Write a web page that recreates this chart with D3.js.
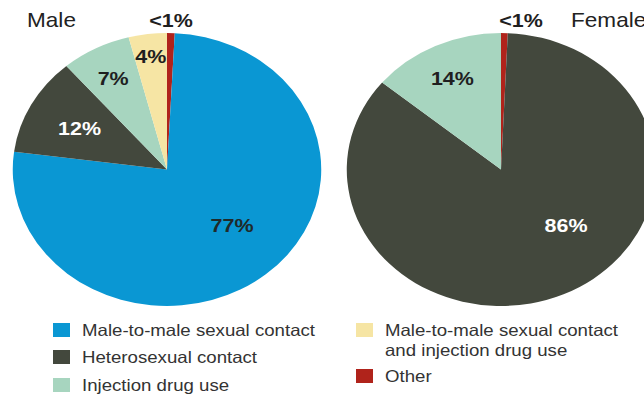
<!DOCTYPE html>
<html><head><meta charset="utf-8">
<script src="https://cdn.jsdelivr.net/npm/d3@7"></script>
<style>body{margin:0;background:#fff}svg{display:block}text{font-family:"Liberation Sans",Arial,sans-serif}</style>
</head><body>
<svg id="c" width="644" height="397"></svg>
<script>
// ---- data ----
const categories = ["Other","Male-to-male sexual contact","Heterosexual contact","Injection drug use","Male-to-male sexual contact and injection drug use"];
const maleValues = [0.8, 76.2, 11.6, 7.3, 4.0];
const maleLabels = ["<1%", "77%", "12%", "7%", "4%"];
const femaleCategories = ["Other","Heterosexual contact","Injection drug use"];
const femaleValues = [0.7, 85.3, 14.0];
const femaleLabels = ["<1%", "86%", "14%"];
const colors = {
  "Male-to-male sexual contact":"#0a97d3",
  "Heterosexual contact":"#43483d",
  "Injection drug use":"#a7d5bf",
  "Male-to-male sexual contact and injection drug use":"#f6e5a4",
  "Other":"#b0231b"
};
const legendCol1 = ["Male-to-male sexual contact","Heterosexual contact","Injection drug use"];
const legendCol2 = ["Male-to-male sexual contact and injection drug use","Other"];

// ---- layout ----
const sx = 1.13; // horizontal stretch of the original image
const svg = d3.select("#c");
const g = svg.append("g").attr("transform", `scale(${sx},1)`);
const R = 136.5, CY = 169.5;
const X = v => v / sx;

const pie = d3.pie().sort(null).value(d => d.v);
const arc = d3.arc().innerRadius(0).outerRadius(R);

function drawPie(cx, cats, vals, labels, labelPlace) {
  const data = cats.map((c,i)=>({c, v: vals[i], l: labels[i]}));
  const gp = g.append("g").attr("transform", `translate(${X(cx)},${CY})`);
  const arcs = pie(data);
  gp.selectAll("path").data(arcs).join("path")
    .attr("d", arc).attr("fill", d => colors[d.data.c]);
  arcs.forEach((a, i) => {
    const p = labelPlace[i];
    if (!p) return;
    const ang = p.angle !== undefined ? p.angle * Math.PI/180 : (a.startAngle + a.endAngle)/2;
    const x = Math.sin(ang) * p.r, y = -Math.cos(ang) * p.r;
    gp.append("text").attr("x", x).attr("y", y).attr("dy", "0.36em")
      .attr("text-anchor","middle").attr("font-size", 19).attr("font-weight","bold")
      .attr("fill", p.fill).text(a.data.l);
  });
}
drawPie(167, categories, maleValues, maleLabels,
  [null, {r:80, angle:134, fill:"#1f2a2a"}, {r:88, fill:"#ffffff"}, {r:103, fill:"#1f1f1f"}, {r:114, fill:"#1f1f1f"}]);
drawPie(501, femaleCategories, femaleValues, femaleLabels,
  [null, {r:80, angle:134, fill:"#ffffff"}, {r:101, fill:"#1f1f1f"}]);

// titles & top labels
g.append("text").attr("x", X(27)).attr("y", 27).attr("font-size", 20).attr("fill","#222").text("Male");
g.append("text").attr("x", X(571)).attr("y", 27).attr("font-size", 20).attr("fill","#222").text("Female");
g.append("text").attr("x", X(171)).attr("y", 27).attr("text-anchor","middle").attr("font-size", 19).attr("font-weight","bold").attr("fill","#1f1f1f").text(maleLabels[0]);
g.append("text").attr("x", X(521)).attr("y", 27).attr("text-anchor","middle").attr("font-size", 19).attr("font-weight","bold").attr("fill","#1f1f1f").text(femaleLabels[0]);

// legend
const lg = g.append("g");
const rows1 = [336, 363, 391];
legendCol1.forEach((c,i)=>{
  lg.append("rect").attr("x", X(53)).attr("y", rows1[i]-13).attr("width", X(17)).attr("height", 14).attr("fill", colors[c]);
  lg.append("text").attr("x", X(82)).attr("y", rows1[i]).attr("font-size", 16.5).attr("fill","#333").text(c);
});
const col2Lines = [["Male-to-male sexual contact","and injection drug use"],["Other"]];
const rows2 = [336, 382];
legendCol2.forEach((c,i)=>{
  lg.append("rect").attr("x", X(356)).attr("y", rows2[i]-13).attr("width", X(17)).attr("height", 14).attr("fill", colors[c]);
  col2Lines[i].forEach((t,j)=>{
    lg.append("text").attr("x", X(385)).attr("y", rows2[i] + j*20).attr("font-size", 16.5).attr("fill","#333").text(t);
  });
});
</script>
</body></html>
